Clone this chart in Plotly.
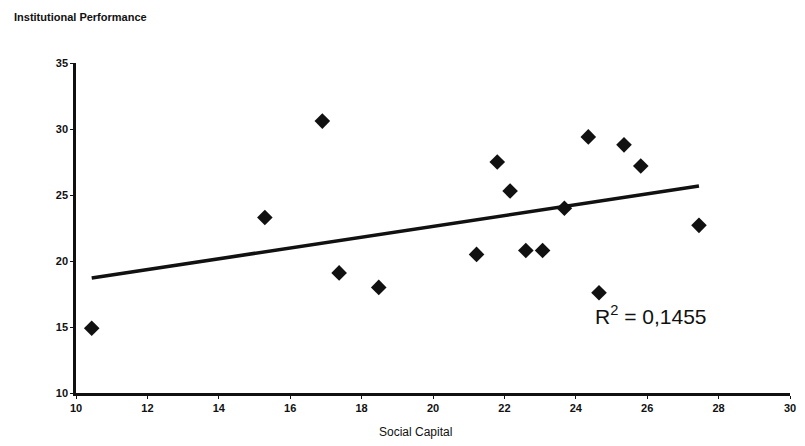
import numpy as np
import plotly.graph_objects as go

social_capital = [10.44, 15.29, 16.90, 17.37, 18.48, 21.22, 21.80, 22.16, 22.60, 23.07,
                  23.68, 24.35, 24.65, 25.35, 25.82, 27.45]
institutional_performance = [14.9, 23.3, 30.6, 19.1, 18.0, 20.5, 27.5, 25.3, 20.8, 20.8,
                             24.0, 29.4, 17.6, 28.8, 27.2, 22.7]
x_ticks = [10, 12, 14, 16, 18, 20, 22, 24, 26, 28, 30]
y_ticks = [10, 15, 20, 25, 30, 35]
r2_label = "R<sup>2</sup> = 0,1455"

x = np.array(social_capital)
y = np.array(institutional_performance)
slope, intercept = np.polyfit(x, y, 1)
trend_x = [x.min(), x.max()]
trend_y = [slope * v + intercept for v in trend_x]

FONT = "Liberation Sans, Arial, sans-serif"

fig = go.Figure()
fig.add_trace(go.Scatter(x=trend_x, y=trend_y, mode="lines",
                         line=dict(color="#111111", width=3.5), hoverinfo="skip",
                         showlegend=False))
fig.add_trace(go.Scatter(x=social_capital, y=institutional_performance, mode="markers",
                         marker=dict(symbol="diamond", size=12, color="#111111"),
                         showlegend=False))

fig.add_annotation(x=26.1, y=15.9, xref="x", yref="y", text=r2_label, showarrow=False,
                   font=dict(family=FONT, size=21, color="#111111"))
fig.add_annotation(x=-0.09, y=1.139, xref="paper", yref="paper", xanchor="left", yanchor="middle",
                   text="<b>Institutional Performance</b>", showarrow=False,
                   font=dict(family=FONT, size=11, color="#111111"))
fig.add_annotation(x=0.475, y=-0.118, xref="paper", yref="paper", xanchor="center", yanchor="middle",
                   text="Social Capital", showarrow=False,
                   font=dict(family=FONT, size=12, color="#111111"))

axis_font = dict(family=FONT, size=11, color="#111111")
fig.update_layout(
    width=797, height=438,
    margin=dict(l=68, r=9, t=55, b=53),
    paper_bgcolor="white", plot_bgcolor="white",
    xaxis=dict(range=[10, 30], tickvals=x_ticks, ticktext=[f"<b>{v}</b>" for v in x_ticks],
               showgrid=False, zeroline=False, showline=True, linecolor="#111111", linewidth=2.5,
               ticks="outside", ticklen=3, tickcolor="#111111", tickfont=axis_font,
               ticklabeloverflow="allow"),
    yaxis=dict(range=[10, 35], tickvals=y_ticks, ticktext=[f"<b>{v}</b>" for v in y_ticks],
               showgrid=False, zeroline=False, showline=True, linecolor="#111111", linewidth=2.5,
               ticks="outside", ticklen=3, tickcolor="#111111", tickfont=axis_font),
)

fig.write_html("out.html")
